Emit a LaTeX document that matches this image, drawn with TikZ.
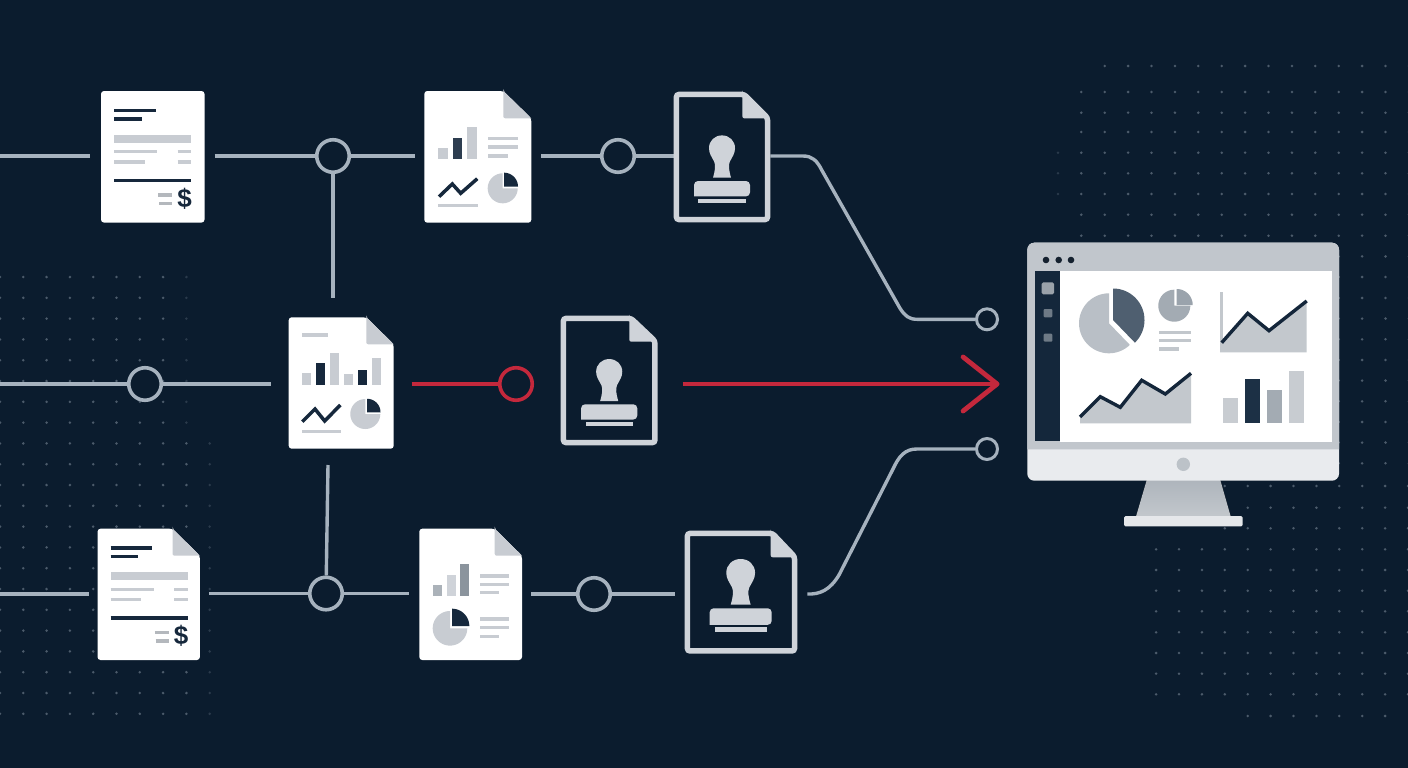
\documentclass[tikz,border=0pt]{standalone}
\usepackage{fontspec}
\setmainfont{Liberation Sans}
\usetikzlibrary{arrows.meta}
\definecolor{bg}{HTML}{0B1C2E}
\definecolor{wire}{HTML}{A6B2BE}
\definecolor{alert}{HTML}{C4283C}
\definecolor{ink}{HTML}{16283C}
\definecolor{mist}{HTML}{C8CCD2}
\definecolor{pale}{HTML}{CFD3D9}
\definecolor{dotc}{HTML}{4C5B6B}
\definecolor{dotf}{HTML}{2A3A4B}
\definecolor{cE5E7EA}{HTML}{E5E7EA}
\definecolor{cE9EBEE}{HTML}{E9EBEE}
\definecolor{cC1C6CC}{HTML}{C1C6CC}
\definecolor{c14273B}{HTML}{14273B}
\definecolor{c15212F}{HTML}{15212F}
\definecolor{c9AA2AA}{HTML}{9AA2AA}
\definecolor{c6E7A86}{HTML}{6E7A86}
\definecolor{cB9BFC6}{HTML}{B9BFC6}
\definecolor{c4F5F70}{HTML}{4F5F70}
\definecolor{cA3ABB3}{HTML}{A3ABB3}
\definecolor{c9AA3AC}{HTML}{9AA3AC}
\definecolor{cC2C7CC}{HTML}{C2C7CC}
\definecolor{cC3C8CD}{HTML}{C3C8CD}
\definecolor{c14263A}{HTML}{14263A}
\definecolor{cC8CCD1}{HTML}{C8CCD1}
\definecolor{c1C3045}{HTML}{1C3045}
\definecolor{cBCC2C8}{HTML}{BCC2C8}
\definecolor{cABB2B9}{HTML}{ABB2B9}
\definecolor{c8B949D}{HTML}{8B949D}
\definecolor{cAEB5BC}{HTML}{AEB5BC}
\newcommand{\mywedge}[6]{\fill[#6] (#1,#2) -- plot[domain=#4:#5,samples=40] ({#1+#3*cos(\x)},{#2-#3*sin(\x)}) -- cycle;}
\newcommand{\flatsheet}[2]{\fill[white,rounded corners=3pt] (0,0) rectangle (#1,#2);}
\newcommand{\foldsheet}[4]{%
  \fill[white,rounded corners=3pt] (0,0) -- (#3,0) -- (#1,#4) -- (#1,#2) -- (0,#2) -- cycle;
  \fill[mist] (#3,0) -- (#1,#4) -- (#3+4,#4) [rounded corners=2pt] -- (#3,#4) -- (#3,0) -- cycle;}
\newcommand{\stampframe}[4]{%
  \draw[pale,line width=5.5pt,rounded corners=2.5pt] (2.75,2.75) -- (#3+1.8,2.75) -- (#1-2.8,#4-0.7) -- (#1-2.8,#2-2.75) -- (2.75,#2-2.75) -- cycle;
  \fill[pale] (#3,1) -- (#1-2.6,#4) -- (#3+4,#4) [rounded corners=2pt] -- (#3,#4) -- (#3,1) -- cycle;}
\tikzset{
  conn/.style={draw=wire,line width=3.4pt},
  hot/.style={draw=alert,line width=3.6pt},
  hub/.style={circle,draw=wire,fill=bg,line width=3.6pt,minimum size=32.5pt,inner sep=0pt},
  hothub/.style={hub,draw=alert},
  port/.style={circle,draw=wire,fill=bg,line width=3pt,minimum size=21pt,inner sep=0pt},
  docbox/.style={rectangle,anchor=north west,inner sep=0pt,outer sep=0pt},
  ln/.style={line width=3.3pt,draw=mist},
  dk/.style={line width=3.5pt,draw=ink},
  dot/.style={fill=dotc},
  fdot/.style={fill=dotf},
  invoicecontent/.pic={
    \draw[dk] (13,19.3) -- (54.7,19.3);
    \draw[dk] (13,28) -- (40.7,28);
    \fill[mist] (13,43.7) rectangle (90,51.7);
    \draw[ln] (13,60.7) -- (56,60.7);
    \draw[ln] (76.7,60.7) -- (90,60.7);
    \draw[ln] (13,71) -- (43.7,71);
    \draw[ln] (76.7,71) -- (90,71);
    \draw[dk] (13,89.3) -- (90,89.3);
    \draw[ln,draw=mist!90!black] (57.3,104) -- (71.3,104);
    \draw[ln,draw=mist!90!black] (58,112.3) -- (71.3,112.3);
    \node[text=ink,inner sep=0pt,font=\fontsize{26}{26}\selectfont\bfseries] (dollar) at (83.5,107.5) {\$};
  },
  invoiceflat/.pic={\flatsheet{103.5}{131.6}\pic (c) {invoicecontent};},
  invoicefold/.pic={\foldsheet{102.4}{131.3}{75}{27}\pic (c) {invoicecontent};},
  reporta/.pic={
    \foldsheet{107}{131.7}{79}{27.3}
    \fill[mist] (14,56.7) rectangle (23.7,68);
    \fill[ink!90!white] (28.4,46.7) rectangle (38,68);
    \fill[mist] (42.7,35.7) rectangle (52.4,68);
    \draw[ln] (63.7,47.7) -- (93.7,47.7);
    \draw[ln] (63.7,56) -- (93.7,56);
    \draw[ln] (63.7,65) -- (83.4,65);
    \draw[dk,line join=miter] (14.7,105.7) -- (28,93) -- (36.4,102.3) -- (53,87.7);
    \draw[ln] (13.7,114.3) -- (53.7,114.3);
    \mywedge{78.4}{97.3}{15}{90}{360}{mist}
    \mywedge{79.7}{95.7}{14}{0}{90}{ink}
  },
  reportb/.pic={
    \foldsheet{105}{131.4}{77.6}{27}
    \draw[ln] (13.3,17.7) -- (39,17.7);
    \fill[mist] (13.3,56) rectangle (22.3,67.7);
    \fill[ink] (27.3,46) rectangle (36.3,67.7);
    \fill[mist] (41.3,35.4) rectangle (50.3,67.7);
    \fill[mist] (55.3,57) rectangle (64.3,67.7);
    \fill[ink] (69.3,52.7) rectangle (78.3,67.7);
    \fill[mist] (83,41) rectangle (92,67.7);
    \draw[dk] (13.6,104.4) -- (26.3,91.7) -- (36,103.7) -- (51.6,87.7);
    \draw[ln] (13.3,114) -- (52,114);
    \mywedge{76.6}{96.7}{15}{90}{360}{mist}
    \mywedge{78.3}{95}{13.5}{0}{90}{ink}
  },
  reportc/.pic={
    \foldsheet{102.7}{131.3}{75.4}{27}
    \fill[cABB2B9] (13.4,56) rectangle (22.7,67);
    \fill[pale] (27.4,46.3) rectangle (36.4,67);
    \fill[c8B949D] (41,35) rectangle (50,67);
    \draw[ln] (60.7,47.3) -- (89.4,47.3);
    \draw[ln] (60.7,55.6) -- (89.4,55.6);
    \draw[ln] (60.7,64) -- (79.4,64);
    \mywedge{30.7}{99.6}{17.3}{90}{360}{mist}
    \mywedge{32.7}{97.3}{17.3}{0}{90}{ink}
    \draw[ln] (60.7,90.3) -- (89.4,90.3);
    \draw[ln] (60.7,99) -- (89.4,99);
    \draw[ln] (60.7,107.6) -- (79.4,107.6);
  },
  framea/.pic={\stampframe{96.6}{130.6}{68.7}{26.7}},
  frameb/.pic={\stampframe{97}{129.6}{68.6}{26}},
  framec/.pic={\stampframe{112.6}{123}{86}{26.6}},
  stampicon/.pic={
    \fill[pale] (39.3,86) .. controls (41.5,78) and (42,74) .. (40.5,70)
      .. controls (38,65) and (35.3,62) .. (35.3,56.5)
      .. controls (35.3,49) and (41,43.7) .. (48.3,43.7)
      .. controls (55.6,43.7) and (61.3,49) .. (61.3,56.5)
      .. controls (61.3,62) and (58.6,65) .. (56.1,70)
      .. controls (54.6,74) and (55.1,78) .. (57.3,86) -- cycle;
    \fill[pale,rounded corners=4pt] (20.3,104.7) -- (20.3,89.3) -- (76.3,89.3) -- (76.3,104.7) [sharp corners] -- cycle;
    \fill[pale] (24.7,107) rectangle (72.3,111.4);
  }
}
\begin{document}
\begin{tikzpicture}[x=1pt,y=-1pt]
\useasboundingbox (0,0) rectangle (1408,768);
\fill[bg] (0,0) rectangle (1408,768);
% dot fields
\foreach \j in {0,...,7}{\foreach \k in {0,...,7}{\fill[dot] ({23.3*\k},{277+20.8*\j}) circle[radius=1.4];}\fill[fdot] ({23.3*8},{277+20.8*\j}) circle[radius=1.4];}
\foreach \j in {8,...,21}{\foreach \k in {0,...,8}{\fill[dot] ({23.3*\k},{277+20.8*\j}) circle[radius=1.4];}\fill[fdot] ({23.3*9},{277+20.8*\j}) circle[radius=1.4];}
\foreach \y in {92,112.7,132,152.7,173.3,194,214.7,235.7,256.4,277,298,318.6,339.3,360,380.6,401.3,422,442.6,463.3}{\foreach \k in {0,...,14}{\fill[dot] ({1081.3+23.4*\k},\y) circle[radius=1.4];}}
\foreach \k in {1,...,14}{\fill[dot] ({1081.3+23.4*\k},66) circle[radius=1.4];}
\foreach \y in {152.7,173.3,194}{\fill[fdot] (1058,\y) circle[radius=1.4];}
\foreach \y in {486,507.7,528.3}{\foreach \k in {0,...,8}{\fill[dot] ({1408-22.9*\k},\y) circle[radius=1.4];}}
\foreach \y in {549.3,570,590.7,611.3,632.3,653,673.7,694.3}{\foreach \k in {0,...,11}{\fill[dot] ({1408-22.9*\k},\y) circle[radius=1.4];}}
\foreach \k in {1,...,7}{\fill[dot] ({1408-22.9*\k},716) circle[radius=1.4];}
% hubs and ports
\node[hub] (c1) at (333,156) {};
\node[hub] (c2) at (618,156) {};
\node[hub] (c3) at (145,384) {};
\node[hothub] (c4) at (516,384) {};
\node[hub] (c5) at (326,593.5) {};
\node[hub] (c6) at (594,594) {};
\node[port] (p1) at (987,319.3) {};
\node[port] (p2) at (987,449) {};
% document boxes
\node[docbox,minimum width=103.5pt,minimum height=131.6pt] (inv1) at (101,91) {};
\node[docbox,minimum width=107pt,minimum height=131.7pt] (rep1) at (424.3,91) {};
\node[docbox,minimum width=96.6pt,minimum height=130.6pt] (st1) at (673.7,91.7) {};
\node[docbox,minimum width=105pt,minimum height=131.4pt] (rep2) at (288.7,317.3) {};
\node[docbox,minimum width=97pt,minimum height=129.6pt] (st2) at (560.7,315.7) {};
\node[docbox,minimum width=102.4pt,minimum height=131.3pt] (inv2) at (97.5,528.7) {};
\node[docbox,minimum width=102.7pt,minimum height=131.3pt] (rep3) at (419.3,528.7) {};
\node[docbox,minimum width=112.6pt,minimum height=123pt] (st3) at (684.7,530.7) {};
\node[docbox,minimum width=311.7pt,minimum height=238pt] (mon) at (1027.3,242.7) {};
% free ends
\coordinate (w1) at (0,156);
\coordinate (w2) at (0,384);
\coordinate (w3) at (0,594);
\coordinate (v1) at (333,298);
\coordinate (v2) at (328,465);
\coordinate (tip) at (999.5,384);
\coordinate (s3icon) at (687.2,511.8);
% connectors
\draw[conn] (w1) -- ([xshift=-11pt]inv1.west |- c1);
\draw[conn] ([xshift=10pt]inv1.east |- c1) -- (c1);
\draw[conn] (c1) -- ([xshift=-9pt]rep1.west |- c1);
\draw[conn] ([xshift=10pt]rep1.east |- c2) -- (c2);
\draw[conn] (c2) -- (st1.west |- c2);
\draw[conn] (st1.east |- c2) -- (803,156) .. controls (812,156) and (817,160.5) .. (821.7,170) -- (900,308.3) .. controls (905,316) and (909,319.3) .. (917,319.3) -- (p1);
\draw[conn] (c1) -- (v1);
\draw[conn] (v2) -- (c5);
\draw[conn] (w2) -- (c3);
\draw[conn] (c3) -- ([xshift=-18pt]rep2.west |- c3);
\draw[hot] ([xshift=18pt]rep2.east |- c4) -- (c4);
\draw[hot,line width=4.4pt,-{Straight Barb[length=34pt,width=54pt,line width=4.8pt,round]}] ([xshift=25pt]st2.east |- tip) -- (tip);
\draw[conn] (w3) -- ([xshift=-9pt]inv2.west |- w3);
\draw[conn] ([xshift=9pt]inv2.east |- c5) -- (c5);
\draw[conn] (c5) -- ([xshift=-10pt]rep3.west |- c5);
\draw[conn] ([xshift=9pt]rep3.east |- c6) -- (c6);
\draw[conn] (c6) -- ([xshift=-10pt]st3.west |- c6);
\draw[conn] ([xshift=10pt]st3.east |- c6) .. controls (820,594.5) and (830,590) .. (839,575) -- (893,469) .. controls (899,456) and (905,449) .. (917,449) -- (p2);
% document drawings
\pic (i1) at (inv1.north west) {invoiceflat};
\pic (r1) at (rep1.north west) {reporta};
\pic (s1) at (st1.north west) {framea};
\pic (s1i) at (st1.north west) {stampicon};
\pic (r2) at (rep2.north west) {reportb};
\pic (s2) at (st2.north west) {frameb};
\pic[yscale=0.992,xscale=1.004] (s2i) at (st2.north west) {stampicon};
\pic (i2) at (inv2.north west) {invoicefold};
\pic (r3) at (rep3.north west) {reportc};
\pic (s3) at (st3.north west) {framec};
\pic[xscale=1.107,yscale=1.08] (s3i) at (s3icon) {stampicon};
% monitor
\fill[top color=cAEB5BC,bottom color=cC2C7CC] (1146.7,480) -- (1220.3,480) -- (1230.7,516.5) -- (1136,516.5) -- cycle;
\fill[cE5E7EA,rounded corners=1.5pt] (1124,516) rectangle (1242.7,526.3);
\fill[cE9EBEE,rounded corners=7pt] (1027.3,242.7) rectangle (1339,480.7);
\fill[cC1C6CC] (1027.3,449.3) [rounded corners=7pt] -- (1027.3,242.7) -- (1339,242.7) -- (1339,300) [sharp corners] -- (1339,449.3) -- cycle;
\fill[white] (1060,270.7) rectangle (1331.7,441.7);
\fill[c14273B] (1035.3,270.7) rectangle (1060,441);
\fill[c15212F] (1046,260) circle[radius=3.3] (1058.7,260) circle[radius=3.3] (1071,260) circle[radius=3.3];
\fill[c9AA2AA,rounded corners=1.5pt] (1041.7,282.3) rectangle (1054,294.3);
\fill[c6E7A86,rounded corners=1pt] (1043.7,309) rectangle (1052.3,317.3);
\fill[c6E7A86,rounded corners=1pt] (1043.7,333.7) rectangle (1052.3,341.7);
\mywedge{1109}{323.3}{30}{90}{314}{cB9BFC6}
\mywedge{1113}{320}{31.5}{-46}{90}{c4F5F70}
\mywedge{1174.3}{305.7}{16}{90}{360}{cA3ABB3}
\mywedge{1176.7}{305}{16}{0}{90}{c9AA3AC}
\draw[ln,draw=cC2C7CC] (1159.3,332.3) -- (1191,332.3);
\draw[ln,draw=cC2C7CC] (1159.3,340.7) -- (1191,340.7);
\draw[ln,draw=cC2C7CC] (1159.3,349) -- (1178.7,349);
\fill[cC3C8CD] (1220,291.7) rectangle (1223.3,352.3);
\fill[cC3C8CD] (1220,352.3) -- (1221.7,342.7) -- (1247.7,313.3) -- (1269,330.7) -- (1306.7,301) -- (1306.7,352.3) -- cycle;
\draw[c14263A,line width=3.4pt] (1221.7,342.7) -- (1247.7,313.3) -- (1269,330.7) -- (1306.7,301);
\fill[cC3C8CD] (1080,417) -- (1100.3,396.7) -- (1120.3,407.3) -- (1141.7,380.3) -- (1165.3,394) -- (1191,373.3) -- (1191,423.3) -- (1080,423.3) -- cycle;
\draw[c14263A,line width=3.4pt] (1080,417) -- (1100.3,396.7) -- (1120.3,407.3) -- (1141.7,380.3) -- (1165.3,394) -- (1191,373.3);
\fill[cC8CCD1] (1223,398.3) rectangle (1238,423.3);
\fill[c1C3045] (1245,379) rectangle (1259.7,423.3);
\fill[cA3ABB3] (1267,390.3) rectangle (1281.7,423.3);
\fill[cC8CCD1] (1289,371) rectangle (1304,423.3);
\fill[cBCC2C8] (1183.3,464.3) circle[radius=6.7];
\end{tikzpicture}
\end{document}
